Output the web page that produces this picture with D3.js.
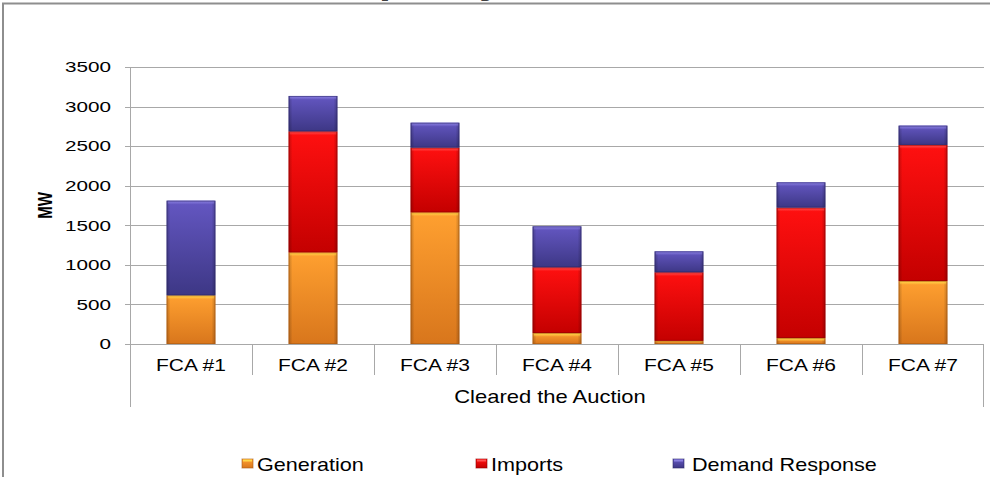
<!DOCTYPE html>
<html>
<head>
<meta charset="utf-8">
<script src="https://cdn.jsdelivr.net/npm/d3@7"></script>
<style>
  html, body { margin: 0; padding: 0; background: #fff; }
  svg { display: block; font-family: "Liberation Sans", Arial, sans-serif; }
</style>
</head>
<body>
<svg id="chart" width="990" height="477"></svg>
<script>
// ---- data ----
const categories = ["FCA #1", "FCA #2", "FCA #3", "FCA #4", "FCA #5", "FCA #6", "FCA #7"];
const groupLabel = "Cleared the Auction";
const seriesNames = ["Generation", "Imports", "Demand Response"];
const generation     = [615, 1158, 1664, 139, 40, 76, 796];
const imports        = [0, 1529, 817, 830, 866, 1647, 1719];
const demandResponse = [1196, 447, 315, 518, 265, 320, 244];
const yTicks = [0, 500, 1000, 1500, 2000, 2500, 3000, 3500];
const yLabel = "MW";
const titleText = "New Capacity";

// ---- layout ----
const plot = { left: 130, right: 984, top: 67, bottom: 344 };
const svg = d3.select("#chart");

const x = d3.scaleBand().domain(categories).range([plot.left, plot.right]).padding(0);
const y = d3.scaleLinear().domain([0, 3500]).range([plot.bottom, plot.top]);
const barW = x.bandwidth() * 0.4;

const styles = {
  "Generation":      { top: "#ffa030", bottom: "#d8761c", hi: "#ffd84a", edge: "#a85a12" },
  "Imports":         { top: "#ff1010", bottom: "#c40000", hi: "#ff5050", edge: "#8e0000" },
  "Demand Response": { top: "#6457c2", bottom: "#3d3785", hi: "#8a80e0", edge: "#2c2868" }
};

// gradients
const defs = svg.append("defs");
seriesNames.forEach((name, i) => {
  const s = styles[name];
  const g = defs.append("linearGradient").attr("id", "g" + i)
    .attr("x1", 0).attr("y1", 0).attr("x2", 0).attr("y2", 1);
  g.append("stop").attr("offset", "0%").attr("stop-color", s.top);
  g.append("stop").attr("offset", "100%").attr("stop-color", s.bottom);
  const h = defs.append("linearGradient").attr("id", "h" + i)
    .attr("x1", 0).attr("y1", 0).attr("x2", 0).attr("y2", 1);
  h.append("stop").attr("offset", "0%").attr("stop-color", s.hi).attr("stop-opacity", 1);
  h.append("stop").attr("offset", "100%").attr("stop-color", s.hi).attr("stop-opacity", 0.15);
});
const side = defs.append("linearGradient").attr("id", "side")
  .attr("x1", 0).attr("y1", 0).attr("x2", 1).attr("y2", 0);
side.append("stop").attr("offset", "0%").attr("stop-color", "#000").attr("stop-opacity", 0.22);
side.append("stop").attr("offset", "8%").attr("stop-color", "#000").attr("stop-opacity", 0);
side.append("stop").attr("offset", "92%").attr("stop-color", "#000").attr("stop-opacity", 0);
side.append("stop").attr("offset", "100%").attr("stop-color", "#000").attr("stop-opacity", 0.22);

function stretchedText(parent, tx, ty, sx, txt, opts) {
  const t = parent.append("text")
    .attr("transform", `translate(${tx},${ty}) scale(${sx},1)` + (opts.rotate ? ` rotate(${opts.rotate})` : ""))
    .attr("text-anchor", opts.anchor || "middle")
    .attr("font-size", opts.size)
    .attr("font-weight", opts.weight || "normal")
    .attr("fill", opts.fill || "#000")
    .text(txt);
  return t;
}

// title (cut off above the frame in the reference: only descenders show)
stretchedText(svg, 224, -6.5, 1.3, titleText, { anchor: "start", size: 33, weight: "bold", fill: "#404040" });

// outer frame
svg.append("path").attr("d", "M3,478 L3,3.5 L991,3.5")
  .attr("fill", "none").attr("stroke", "#8e8e8e").attr("stroke-width", 2);

// gridlines + ticks
svg.append("g").selectAll("line").data(yTicks).join("line")
  .attr("x1", plot.left - 5).attr("x2", plot.right)
  .attr("y1", d => Math.round(y(d)) + 0.5).attr("y2", d => Math.round(y(d)) + 0.5)
  .attr("stroke", "#a8a8a8").attr("stroke-width", 1);

// y axis line (extends into multi-level category area)
svg.append("line").attr("x1", plot.left + 0.5).attr("x2", plot.left + 0.5)
  .attr("y1", plot.top).attr("y2", 407).attr("stroke", "#a8a8a8");
svg.append("line").attr("x1", plot.right - 0.5).attr("x2", plot.right - 0.5)
  .attr("y1", plot.bottom).attr("y2", 407).attr("stroke", "#a8a8a8");
// category separators
svg.append("g").selectAll("line").data(categories.slice(1)).join("line")
  .attr("x1", d => Math.round(x(d)) + 0.5).attr("x2", d => Math.round(x(d)) + 0.5)
  .attr("y1", plot.bottom).attr("y2", 375).attr("stroke", "#a8a8a8");

// y tick labels
const yl = svg.append("g");
yTicks.forEach(t => stretchedText(yl, 111, y(t) + 5.3, 1.38, String(t), { anchor: "end", size: 15 }));

// y label
stretchedText(svg, 52, (plot.top + plot.bottom) / 2, 1.37, yLabel, { size: 15, weight: "bold", rotate: -90 });

// stacked bars
const rows = categories.map((c, i) => ({
  cat: c, "Generation": generation[i], "Imports": imports[i], "Demand Response": demandResponse[i]
}));
const stacked = d3.stack().keys(seriesNames)(rows);

const barsG = svg.append("g");
stacked.forEach((layer, si) => {
  const s = styles[seriesNames[si]];
  layer.forEach(seg => {
    const v = seg[1] - seg[0];
    if (v <= 0) return;
    const cx = x(seg.data.cat) + x.bandwidth() / 2;
    const x0 = cx - barW / 2;
    const yt = y(seg[1]), yb = y(seg[0]);
    const h = yb - yt;
    const g = barsG.append("g");
    g.append("rect").attr("x", x0).attr("y", yt).attr("width", barW).attr("height", h)
      .attr("fill", `url(#g${si})`);
    g.append("rect").attr("x", x0).attr("y", yt).attr("width", barW).attr("height", h)
      .attr("fill", "url(#side)");
    const hh = Math.min(3.5, h * 0.5);
    g.append("rect").attr("x", x0 + 1).attr("y", yt).attr("width", barW - 2).attr("height", hh)
      .attr("fill", `url(#h${si})`);
    g.append("rect").attr("x", x0 + 0.5).attr("y", yt + 0.5).attr("width", barW - 1).attr("height", Math.max(0, h - 1))
      .attr("fill", "none").attr("stroke", s.edge).attr("stroke-opacity", 0.55).attr("stroke-width", 1);
  });
});

// category labels
const xl = svg.append("g");
categories.forEach(c => stretchedText(xl, x(c) + x.bandwidth() / 2, 371, 1.31, c, { size: 16 }));
stretchedText(svg, 550, 403, 1.22, groupLabel, { size: 18 });

// legend
const legendPos = [
  { name: "Generation", mx: 242, tx: 257 },
  { name: "Imports", mx: 476, tx: 491 },
  { name: "Demand Response", mx: 673, tx: 692 }
];
const lg = svg.append("g");
legendPos.forEach(p => {
  const si = seriesNames.indexOf(p.name);
  const s = styles[p.name];
  lg.append("rect").attr("x", p.mx).attr("y", 459).attr("width", 11).attr("height", 9)
    .attr("fill", `url(#g${si})`).attr("stroke", s.edge).attr("stroke-opacity", 0.6);
  lg.append("rect").attr("x", p.mx + 1).attr("y", 459.5).attr("width", 9).attr("height", 2)
    .attr("fill", s.hi);
  stretchedText(lg, p.tx, 471, 1.2, p.name, { anchor: "start", size: 18 });
});
</script>
</body>
</html>
